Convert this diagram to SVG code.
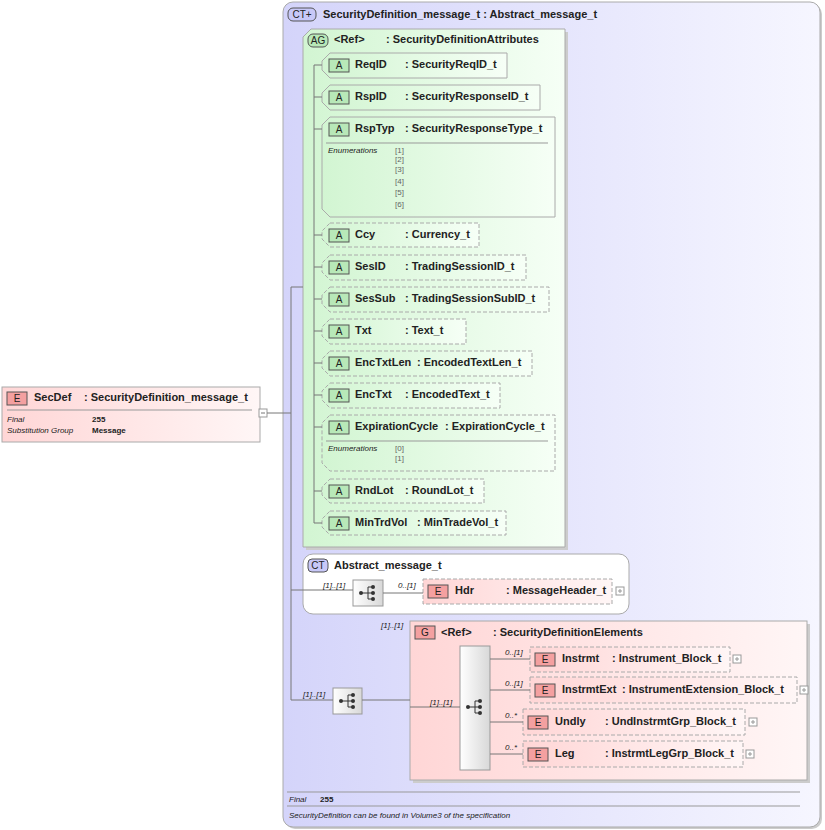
<svg xmlns="http://www.w3.org/2000/svg" width="825" height="830" viewBox="0 0 825 830">
<defs>
<linearGradient id="gP" x1="0" y1="0" x2="1" y2="0"><stop offset="0" stop-color="#ffd6d6"/><stop offset="1" stop-color="#fff6f6"/></linearGradient>
<linearGradient id="gG" x1="0" y1="0" x2="1" y2="0"><stop offset="0" stop-color="#d2f5d2"/><stop offset="1" stop-color="#f6fff6"/></linearGradient>
<linearGradient id="gV" x1="0" y1="0" x2="1" y2="0"><stop offset="0" stop-color="#d4d4fa"/><stop offset="1" stop-color="#f6f6ff"/></linearGradient>
<linearGradient id="gS" x1="0" y1="0" x2="1" y2="0"><stop offset="0" stop-color="#ffffff"/><stop offset="1" stop-color="#d8d8d8"/></linearGradient>
<g id="seqIcon"><circle cx="-7" cy="0" r="2" fill="#333"/><line x1="-7" y1="0" x2="0" y2="0" stroke="#333"/><line x1="0" y1="-6" x2="0" y2="6" stroke="#333"/><line x1="0" y1="-6" x2="5" y2="-6" stroke="#333"/><line x1="0" y1="0" x2="5" y2="0" stroke="#333"/><line x1="0" y1="6" x2="5" y2="6" stroke="#333"/><circle cx="5" cy="-6" r="2" fill="#333"/><circle cx="5" cy="0" r="2" fill="#333"/><circle cx="5" cy="6" r="2" fill="#333"/></g>
</defs>
<style>
text{font-family:"Liberation Sans",Arial,sans-serif;fill:#222}
.b{font-size:11px;font-weight:bold}
.s{font-size:8px;font-style:italic}
.v{font-size:8px;fill:#666}
.m{font-size:8px;font-weight:bold}
.ln{stroke:#777;fill:none}
.att{fill:url(#gG);stroke:#aaa}
.dash{stroke-dasharray:4,2}
.ela{fill:url(#gP);stroke:#aaa}
.badgeA{fill:#b8e8b8;stroke:#555}
.badgeE{fill:#f4a0a0;stroke:#555}
.bt{font-size:10px;text-anchor:middle}
.plus{fill:#fff;stroke:#999}
</style>
<g id="outer">
<rect x="285" y="4" width="537" height="825" rx="10" fill="#ccc"/>
<rect x="283" y="2" width="537" height="825" rx="10" fill="url(#gV)" stroke="#aaa"/>
<rect x="288" y="8" width="28" height="13" rx="5" fill="#c8c8f8" stroke="#555"/><text class="bt" x="302" y="18">CT+</text>
<text class="b" x="323" y="18">SecurityDefinition_message_t : Abstract_message_t</text>
<line x1="287" y1="792" x2="800" y2="792" stroke="#999"/><line x1="287" y1="806" x2="800" y2="806" stroke="#999"/>
<text class="s" x="289" y="802">Final</text><text class="m" x="320" y="802">255</text>
<text class="s" x="289" y="818">SecurityDefinition can be found in Volume3 of the specification</text>
</g>
<g id="SecDef">
<rect x="2" y="387" width="258" height="55" fill="url(#gP)" stroke="#aaa"/>
<rect x="7" y="392" width="20" height="13" class="badgeE"/><text class="bt" x="17" y="402">E</text>
<text class="b" x="34" y="401">SecDef</text><text class="b" x="84" y="401">: SecurityDefinition_message_t</text>
<line x1="7" y1="410" x2="252" y2="410" stroke="#999"/>
<text class="s" x="7" y="422">Final</text><text class="m" x="92" y="422">255</text>
<text class="s" x="7" y="433">Substitution Group</text><text class="m" x="92" y="433">Message</text>
<rect x="259" y="409" width="8" height="8" class="plus"/><line x1="261" y1="413" x2="265" y2="413" stroke="#777"/>
</g>
<g id="AG">
<path d="M311 29H565V547H303V37Z" fill="#ccc" transform="translate(3,3)"/>
<path d="M311 29H565V547H303V37Z" fill="url(#gG)" stroke="#aaa"/>
<rect x="308" y="34" width="20" height="13" rx="5" class="badgeA"/><text class="bt" x="318" y="44">AG</text>
<text class="b" x="334" y="43">&lt;Ref&gt;</text><text class="b" x="386" y="43">: SecurityDefinitionAttributes</text>
</g>
<g id="attrs">
<path class="att" d="M330 53H507V78H330L322 70V61Z"/><rect x="329" y="59" width="20" height="13" class="badgeA"/><text class="bt" x="339" y="69">A</text><text class="b" x="355" y="68">ReqID</text><text class="b" x="405" y="68">: SecurityReqID_t</text>
<path class="att" d="M330 85H540V110H330L322 102V93Z"/><rect x="329" y="91" width="20" height="13" class="badgeA"/><text class="bt" x="339" y="101">A</text><text class="b" x="355" y="100">RspID</text><text class="b" x="405" y="100">: SecurityResponseID_t</text>
<path class="att" d="M330 117H555V217H330L322 209V125Z"/><rect x="329" y="123" width="20" height="13" class="badgeA"/><text class="bt" x="339" y="133">A</text><text class="b" x="355" y="132">RspTyp</text><text class="b" x="405" y="132">: SecurityResponseType_t</text>
<line x1="326" y1="143" x2="548" y2="143" stroke="#999"/><text class="s" x="328" y="153">Enumerations</text>
<text class="v" x="395" y="153">[1]</text><text class="v" x="395" y="162">[2]</text><text class="v" x="395" y="172">[3]</text><text class="v" x="395" y="184">[4]</text><text class="v" x="395" y="195">[5]</text><text class="v" x="395" y="207">[6]</text>
<path class="att dash" d="M330 223H479V247H330L322 239V231Z"/><rect x="329" y="229" width="20" height="13" class="badgeA"/><text class="bt" x="339" y="239">A</text><text class="b" x="355" y="238">Ccy</text><text class="b" x="405" y="238">: Currency_t</text>
<path class="att dash" d="M330 255H526V280H330L322 272V263Z"/><rect x="329" y="261" width="20" height="13" class="badgeA"/><text class="bt" x="339" y="271">A</text><text class="b" x="355" y="270">SesID</text><text class="b" x="405" y="270">: TradingSessionID_t</text>
<path class="att dash" d="M330 287H549V312H330L322 304V295Z"/><rect x="329" y="293" width="20" height="13" class="badgeA"/><text class="bt" x="339" y="303">A</text><text class="b" x="355" y="302">SesSub</text><text class="b" x="405" y="302">: TradingSessionSubID_t</text>
<path class="att dash" d="M330 319H466V344H330L322 336V327Z"/><rect x="329" y="325" width="20" height="13" class="badgeA"/><text class="bt" x="339" y="335">A</text><text class="b" x="355" y="334">Txt</text><text class="b" x="405" y="334">: Text_t</text>
<path class="att dash" d="M330 351H532V376H330L322 368V359Z"/><rect x="329" y="357" width="20" height="13" class="badgeA"/><text class="bt" x="339" y="367">A</text><text class="b" x="355" y="366">EncTxtLen</text><text class="b" x="417" y="366">: EncodedTextLen_t</text>
<path class="att dash" d="M330 383H500V408H330L322 400V391Z"/><rect x="329" y="389" width="20" height="13" class="badgeA"/><text class="bt" x="339" y="399">A</text><text class="b" x="355" y="398">EncTxt</text><text class="b" x="405" y="398">: EncodedText_t</text>
<path class="att dash" d="M330 415H555V471H330L322 463V423Z"/><rect x="329" y="421" width="20" height="13" class="badgeA"/><text class="bt" x="339" y="431">A</text><text class="b" x="355" y="430">ExpirationCycle</text><text class="b" x="445" y="430">: ExpirationCycle_t</text>
<line x1="326" y1="441" x2="548" y2="441" stroke="#999"/><text class="s" x="328" y="451">Enumerations</text><text class="v" x="395" y="451">[0]</text><text class="v" x="395" y="461">[1]</text>
<path class="att dash" d="M330 479H484V503H330L322 495V487Z"/><rect x="329" y="485" width="20" height="13" class="badgeA"/><text class="bt" x="339" y="495">A</text><text class="b" x="355" y="494">RndLot</text><text class="b" x="405" y="494">: RoundLot_t</text>
<path class="att dash" d="M330 511H506V535H330L322 527V519Z"/><rect x="329" y="517" width="20" height="13" class="badgeA"/><text class="bt" x="339" y="527">A</text><text class="b" x="355" y="526">MinTrdVol</text><text class="b" x="417" y="526">: MinTradeVol_t</text>
</g>
<g id="AbstractCT">
<rect x="303" y="554" width="326" height="60" rx="10" fill="#fff" stroke="#aaa"/>
<rect x="308" y="559" width="20" height="13" rx="4" fill="#c8c8f8" stroke="#555"/><text class="bt" x="318" y="569">CT</text>
<text class="b" x="334" y="569">Abstract_message_t</text>
<rect x="353" y="580" width="30" height="26" fill="url(#gS)" stroke="#999"/><use href="#seqIcon" x="368" y="593"/>
<rect x="423" y="579" width="189" height="25" class="ela dash"/><rect x="428" y="585" width="20" height="13" class="badgeE"/><text class="bt" x="438" y="595">E</text>
<text class="b" x="455" y="594">Hdr</text><text class="b" x="506" y="594">: MessageHeader_t</text>
<rect x="616" y="587" width="8" height="8" class="plus"/><path d="M618 591h4M620 589v4" stroke="#999"/>
</g>
<g id="Seq1"><rect x="333" y="688" width="29" height="26" fill="url(#gS)" stroke="#999"/><use href="#seqIcon" x="348" y="701"/></g>
<g id="Group">
<rect x="413" y="624" width="397" height="159" fill="#ccc"/>
<rect x="410" y="621" width="397" height="159" fill="url(#gP)" stroke="#aaa"/>
<rect x="415" y="626" width="20" height="13" class="badgeE"/><text class="bt" x="425" y="636">G</text>
<text class="b" x="441" y="636">&lt;Ref&gt;</text><text class="b" x="493" y="636">: SecurityDefinitionElements</text>
<rect x="460" y="646" width="30" height="124" fill="url(#gS)" stroke="#999"/><use href="#seqIcon" x="475" y="707"/>
</g>
<g id="Instrmt"><rect x="530" y="647" width="200" height="25" class="ela dash"/><rect x="535" y="653" width="20" height="13" class="badgeE"/><text class="bt" x="545" y="663">E</text><text class="b" x="562" y="662">Instrmt</text><text class="b" x="612" y="662">: Instrument_Block_t</text><rect x="733" y="655" width="8" height="8" class="plus"/><path d="M735 659h4M737 657v4" stroke="#999"/></g>
<g id="InstrmtExt"><rect x="530" y="677" width="267" height="26" class="ela dash"/><rect x="535" y="684" width="20" height="13" class="badgeE"/><text class="bt" x="545" y="694">E</text><text class="b" x="562" y="693">InstrmtExt</text><text class="b" x="622" y="693">: InstrumentExtension_Block_t</text><rect x="800" y="686" width="8" height="8" class="plus"/><path d="M802 690h4M804 688v4" stroke="#999"/></g>
<g id="Undly"><rect x="523" y="709" width="222" height="26" class="ela dash"/><rect x="528" y="716" width="20" height="13" class="badgeE"/><text class="bt" x="538" y="726">E</text><text class="b" x="555" y="725">Undly</text><text class="b" x="605" y="725">: UndInstrmtGrp_Block_t</text><rect x="749" y="718" width="8" height="8" class="plus"/><path d="M751 722h4M753 720v4" stroke="#999"/></g>
<g id="Leg"><rect x="523" y="741" width="220" height="26" class="ela dash"/><rect x="528" y="748" width="20" height="13" class="badgeE"/><text class="bt" x="538" y="758">E</text><text class="b" x="555" y="757">Leg</text><text class="b" x="605" y="757">: InstrmtLegGrp_Block_t</text><rect x="746" y="750" width="8" height="8" class="plus"/><path d="M748 754h4M750 752v4" stroke="#999"/></g>
<g id="connectors">
<path class="ln" d="M267 413H291M291 287V700M291 287H303M291 590H353M291 700H333M362 700H410M410 707H460M383 593H423M490 659H530M490 690H530M490 722H523M490 754H523M314 65V523M314 65H322M314 97H322M314 129H322M314 235H322M314 267H322M314 299H322M314 331H322M314 363H322M314 395H322M314 427H322M314 491H322M314 523H322"/>
<text class="s" x="323" y="588">[1]..[1]</text>
<text class="s" x="398" y="588">0..[1]</text>
<text class="s" x="303" y="697">[1]..[1]</text>
<text class="s" x="430" y="705">[1]..[1]</text>
<text class="s" x="381" y="628">[1]..[1]</text>
<text class="s" x="505" y="655">0..[1]</text>
<text class="s" x="505" y="686">0..[1]</text>
<text class="s" x="505" y="718">0..*</text>
<text class="s" x="505" y="750">0..*</text>
</g>
</svg>
